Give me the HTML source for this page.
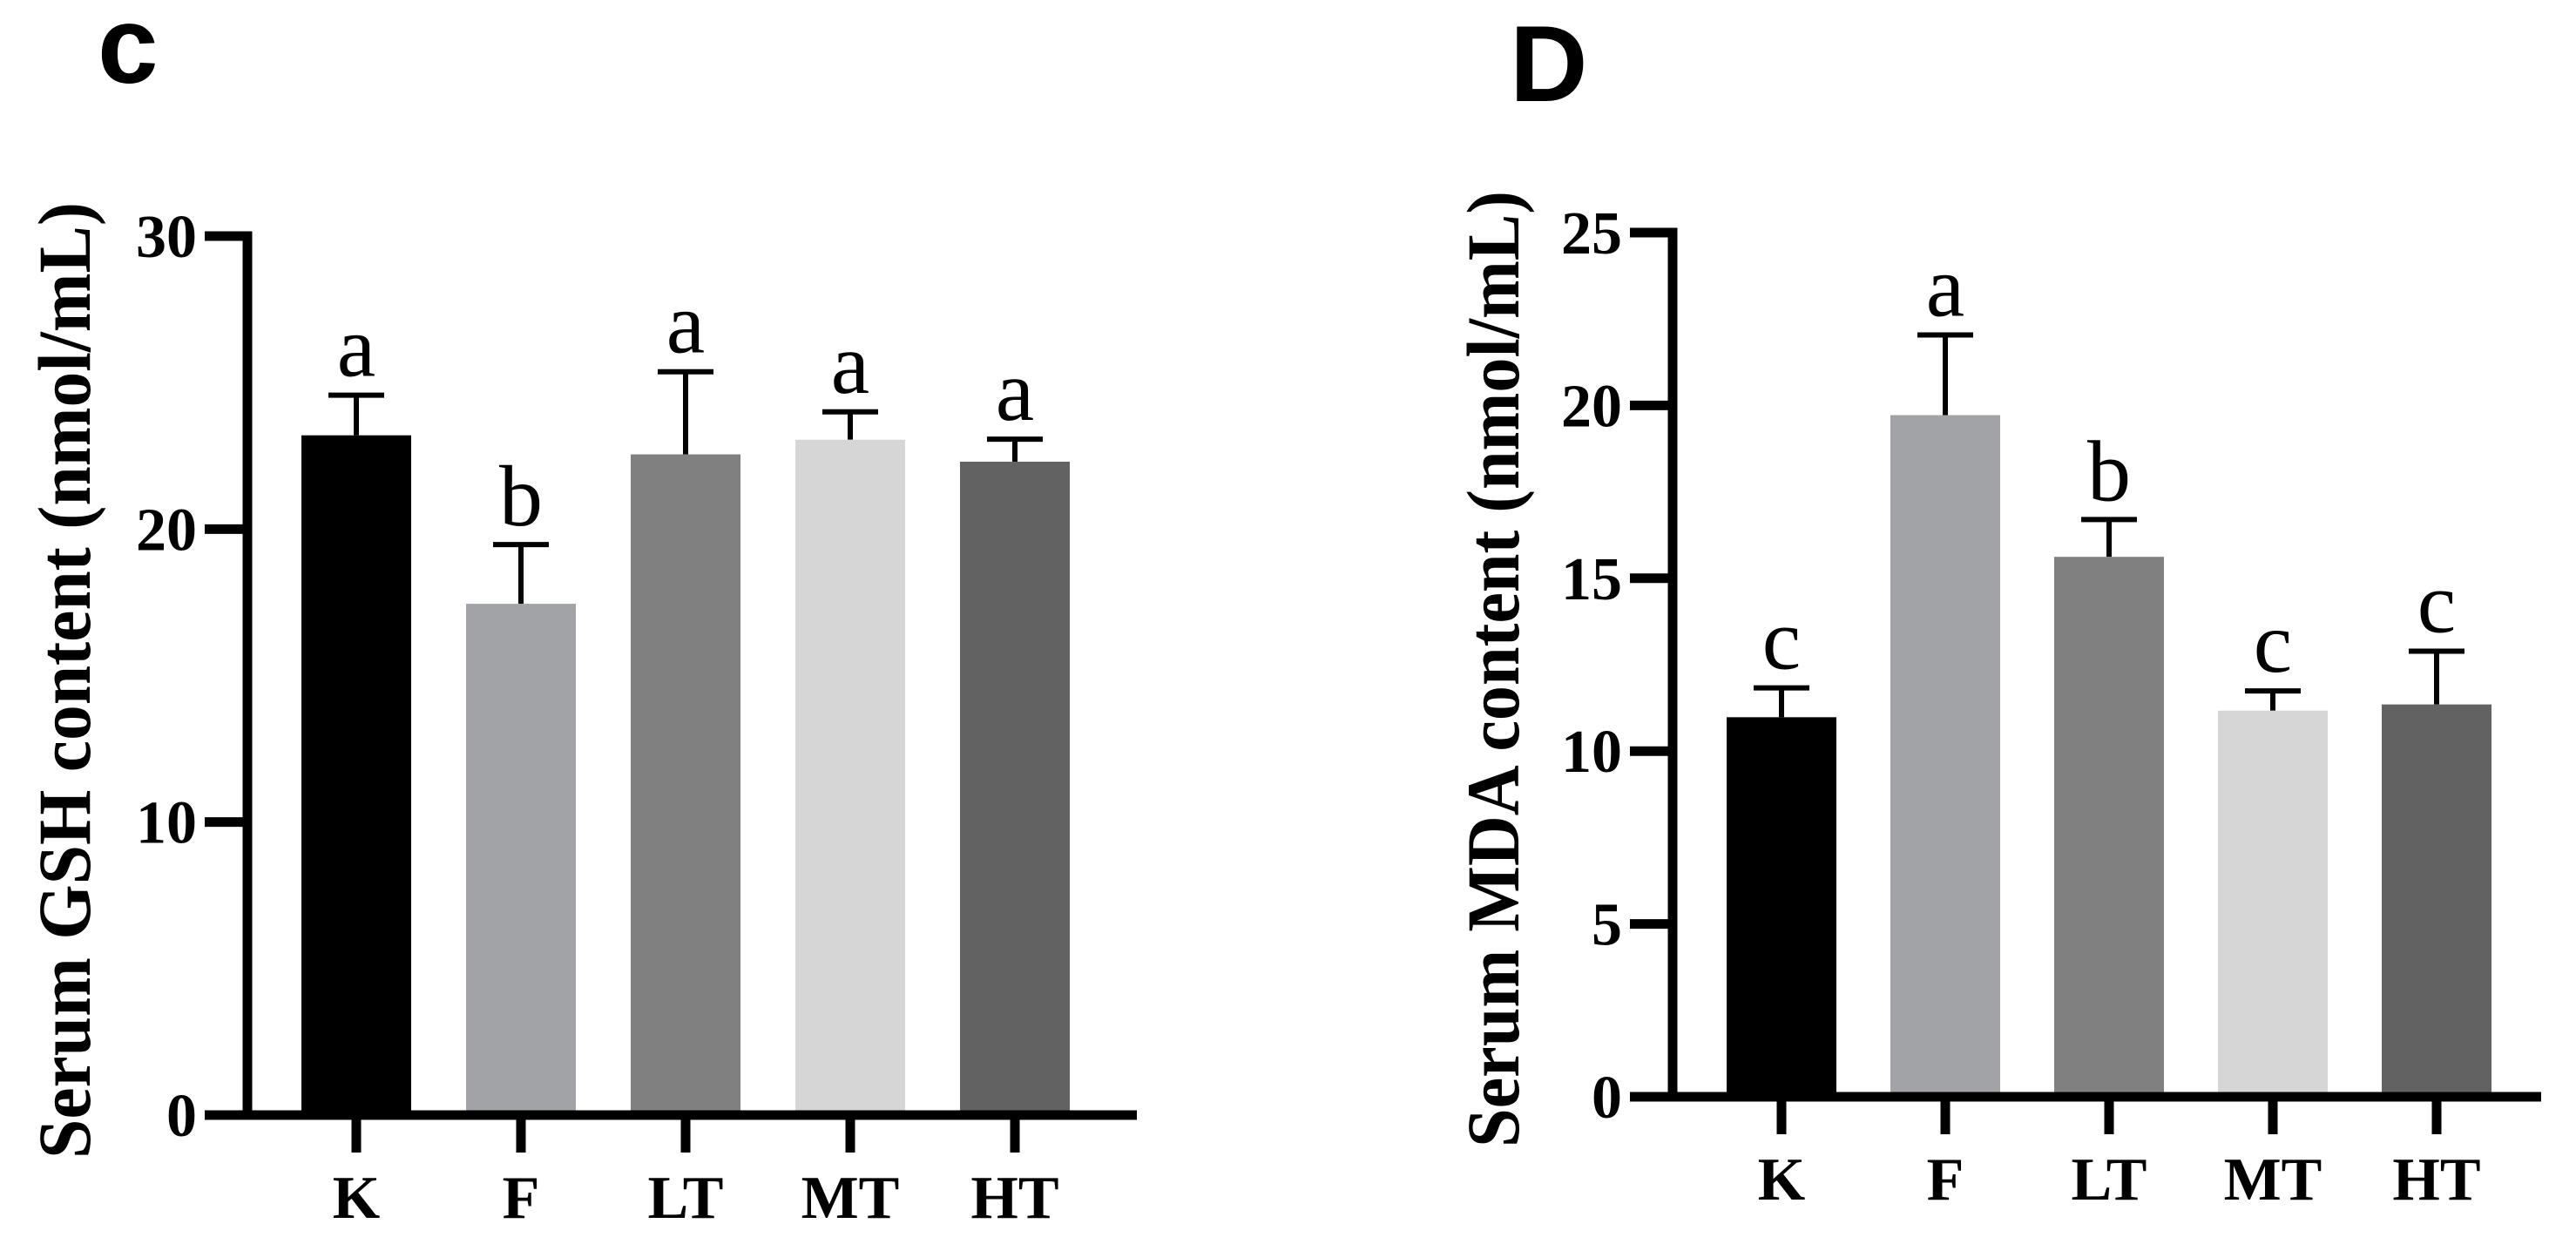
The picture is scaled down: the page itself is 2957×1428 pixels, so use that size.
<!DOCTYPE html>
<html><head><meta charset="utf-8"><style>
html,body{margin:0;padding:0;background:#fff;}
svg{display:block;}
</style></head><body>
<svg id="fig" width="2957" height="1428" viewBox="0 0 2957 1428" xmlns="http://www.w3.org/2000/svg">
<text x="112" y="95" font-family="'Liberation Sans', Arial, sans-serif" font-weight="bold" font-size="125">c</text>
<text x="1733" y="116" font-family="'Liberation Sans', Arial, sans-serif" font-weight="bold" font-size="124">D</text>
<g id="chartC"></g>
<g id="chartD"></g>
</svg>
<script>
const categories = ["K","F","LT","MT","HT"];
const colors = ["#000000","#a2a3a6","#808080","#d6d6d6","#626262"];
const gshValues = [23.2, 17.45, 22.55, 23.05, 22.3];
const gshErrors = [24.57, 19.47, 25.37, 24.0, 23.07];
const gshLetters = ["a","b","a","a","a"];
const gshTicks = [0,10,20,30];
const mdaValues = [10.98, 19.72, 15.62, 11.17, 11.35];
const mdaErrors = [11.83, 22.04, 16.7, 11.74, 12.89];
const mdaLetters = ["c","a","b","c","c"];
const mdaTicks = [0,5,10,15,20,25];

const NS = "http://www.w3.org/2000/svg";
const SERIF = "'Liberation Serif', 'Times New Roman', Times, serif";
function mk(parent, tag, attrs, txt){
  const e = document.createElementNS(NS, tag);
  for (const k in attrs) e.setAttribute(k, attrs[k]);
  if (tag === "text") e.setAttribute("font-family", SERIF);
  if (txt !== undefined) e.textContent = txt;
  parent.appendChild(e);
  return e;
}
function drawChart(g, cfg, values, errors, letters, ticks, title){
  const yS = v => cfg.y0 - (cfg.y0 - cfg.yTop) * v / cfg.max;
  const xS = i => cfg.x0 + cfg.step * i;
  const t = mk(g, "text", {x:0, y:0, transform:`translate(${cfg.titleX},${cfg.titleY}) rotate(-90)`, "font-size":86, "font-weight":"bold", textLength:1098, lengthAdjust:"spacingAndGlyphs"}, title);
  
  
  values.forEach((v,i)=>{
    const cx = xS(i);
    const top = yS(v), et = yS(errors[i]);
    const eb = mk(g, "line", {x1:cx, x2:cx, y1:et, y2:top, stroke:"#000", "stroke-width":6});
    
    
    const cap = mk(g, "line", {x1:cx-32, x2:cx+32, y1:et, y2:et, stroke:"#000", "stroke-width":6});
    
    
    const r = mk(g, "rect", {x:cx-63, y:top, width:126, height:cfg.y0-top, fill:colors[i]});
    
    
    const l = mk(g, "text", {x:cx, y:et-22, "text-anchor":"middle", "font-size":100}, letters[i]);
    
    
    const tk = mk(g, "line", {x1:cx, x2:cx, y1:cfg.y0, y2:cfg.y0+cfg.tickLen, stroke:"#000", "stroke-width":11});
    
    
    const xl = mk(g, "text", {x:cx, y:cfg.y0+118, "text-anchor":"middle", "font-size":70, "font-weight":"bold"}, categories[i]);
    
    
  });
  const ya = mk(g, "line", {x1:cfg.ax, x2:cfg.ax, y1:yS(cfg.max)-5.5, y2:cfg.y0+5.5, stroke:"#000", "stroke-width":11});
  
  
  const xa = mk(g, "line", {x1:cfg.ax-49, x2:cfg.xEnd, y1:cfg.y0, y2:cfg.y0, stroke:"#000", "stroke-width":11});
  
  
  ticks.forEach(v=>{
    const y = yS(v);
    const tk = mk(g, "line", {x1:cfg.ax-49, x2:cfg.ax, y1:y, y2:y, stroke:"#000", "stroke-width":11});
    
    
    const tl = mk(g, "text", {x:cfg.ax-58, y:y+24, "text-anchor":"end", "font-size":70, "font-weight":"bold"}, String(v));
    
    
  });
}
drawChart(document.getElementById("chartC"),
  {y0:1280, yTop:271, max:30, x0:409, step:189, ax:284, xEnd:1305, tickLen:43, titleX:103, titleY:1330},
  gshValues, gshErrors, gshLetters, gshTicks, "Serum GSH content (nmol/mL)");
drawChart(document.getElementById("chartD"),
  {y0:1259, yTop:267, max:25, x0:2045, step:188, ax:1920, xEnd:2917, tickLen:43, titleX:1743, titleY:1317},
  mdaValues, mdaErrors, mdaLetters, mdaTicks, "Serum MDA content (nmol/mL)");
</script>
</body></html>
